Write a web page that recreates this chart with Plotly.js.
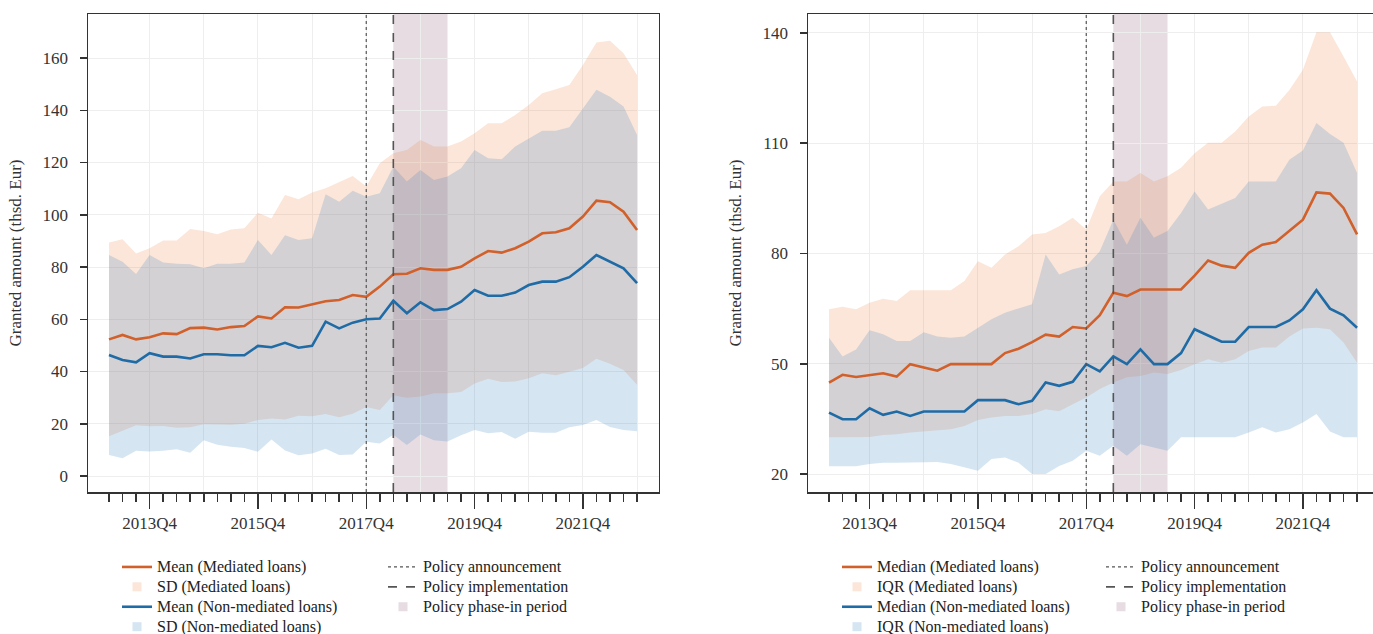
<!DOCTYPE html>
<html>
<head>
<meta charset="utf-8">
<script src="https://cdn.plot.ly/plotly-3.0.1.min.js"></script>
<style>
html,body{margin:0;padding:0;background:#fff;overflow:hidden;}
#wrap{width:1373px;height:634px;overflow:hidden;}
#chart{width:1385px;height:660px;}
</style>
</head>
<body>
<div id="wrap"><div id="chart"></div></div>
<script>
const quarters = ['2013Q1','2013Q2','2013Q3','2013Q4','2014Q1','2014Q2','2014Q3','2014Q4',
  '2015Q1','2015Q2','2015Q3','2015Q4','2016Q1','2016Q2','2016Q3','2016Q4',
  '2017Q1','2017Q2','2017Q3','2017Q4','2018Q1','2018Q2','2018Q3','2018Q4',
  '2019Q1','2019Q2','2019Q3','2019Q4','2020Q1','2020Q2','2020Q3','2020Q4',
  '2021Q1','2021Q2','2021Q3','2021Q4','2022Q1','2022Q2','2022Q3','2022Q4'];
const yearTicks = ['2013Q4','2014Q4','2015Q4','2016Q4','2017Q4','2018Q4','2019Q4','2020Q4','2021Q4','2022Q4'];
const tickLabels = ['2013Q4','2015Q4','2017Q4','2019Q4','2021Q4'];

// Left panel: mean and SD
const meanMediated = [52.3,54.0,52.3,53.1,54.6,54.3,56.6,56.8,56.1,57.0,57.4,61.1,60.3,64.6,64.5,65.7,66.9,67.4,69.3,68.6,72.5,77.2,77.4,79.5,78.9,78.9,80.1,83.3,86.1,85.5,87.2,89.7,92.9,93.3,94.8,99.3,105.4,104.8,101.2,94.2];
const sdMediated = [37.1,36.6,32.9,34.1,35.5,35.8,37.9,37.0,36.4,37.4,37.4,39.7,38.3,43.0,41.4,42.8,43.2,44.9,45.5,42.2,47.2,46.3,47.4,49.1,47.2,47.2,47.9,47.9,48.9,49.5,51.0,52.3,53.6,54.7,54.9,58.0,60.5,61.8,60.6,59.3];
const meanNonMediated = [46.3,44.4,43.5,47.0,45.7,45.7,45.0,46.6,46.6,46.2,46.2,49.8,49.3,51.0,49.1,49.8,59.1,56.5,58.7,60.0,60.3,67.1,62.3,66.5,63.5,63.9,66.7,71.2,69.0,69.0,70.2,73.1,74.4,74.4,76.1,80.1,84.6,82.0,79.5,73.8];
const sdNonMediated = [38.3,37.6,33.8,37.6,36.0,35.5,36.1,32.9,34.6,35.0,35.5,40.5,35.3,41.2,41.2,41.2,48.7,48.5,50.5,46.9,47.9,51.3,50.4,50.6,49.8,50.7,51.1,53.6,52.6,52.2,55.9,56.2,57.8,57.8,57.4,60.6,63.2,63.2,61.9,56.7];

// Right panel: median and IQR
const medianMediated = [44.9,47.0,46.4,47.0,47.4,46.5,49.9,49.0,48.1,49.9,49.9,49.9,49.9,52.9,54.1,55.9,57.9,57.4,60.0,59.6,63.2,69.3,68.4,70.2,70.2,70.2,70.2,74.0,78.1,76.7,76.1,80.2,82.4,83.1,86.1,89.2,96.6,96.3,92.4,85.2];
const q1Mediated = [30.0,30.0,30.0,30.1,30.6,30.8,31.3,31.6,32.0,32.2,33.1,34.7,35.4,35.8,35.8,36.3,37.6,37.1,39.0,40.8,43.1,44.9,46.3,46.7,47.6,47.2,48.3,49.9,51.2,50.3,51.2,53.5,54.4,54.4,57.4,59.6,59.8,59.4,55.8,50.3];
const q3Mediated = [64.8,65.5,64.8,66.6,67.7,67.1,70.0,70.0,70.0,70.0,72.5,77.9,76.1,79.7,82.0,85.2,85.6,87.4,89.7,86.5,95.6,99.6,99.6,101.9,99.6,101.0,103.3,107.3,110.1,110.1,113.2,117.3,120.0,120.2,124.5,130.0,140.2,140.2,133.6,126.8];
const medianNonMediated = [36.7,34.9,34.9,37.9,36.1,37.0,35.8,37.0,37.0,37.0,37.0,40.1,40.1,40.1,39.0,39.9,44.9,44.0,45.1,49.9,47.9,52.0,49.9,53.9,49.9,49.9,52.9,59.4,57.7,56.0,56.0,60.0,60.0,60.0,61.8,64.8,70.0,65.0,63.2,59.8];
const q1NonMediated = [22.1,22.2,22.1,22.7,23.1,23.1,23.1,23.1,23.3,22.7,21.8,20.9,24.1,24.5,23.1,20.0,20.0,22.2,23.6,26.3,25.0,27.7,25.0,28.1,27.2,26.3,30.0,30.0,30.0,30.0,30.0,31.3,32.7,31.3,32.2,34.0,36.3,31.6,30.0,30.0];
const q3NonMediated = [57.1,52.0,53.9,59.1,58.0,56.2,56.2,58.6,57.4,57.1,57.4,59.8,62.1,63.9,65.0,66.2,79.7,74.3,75.7,76.6,80.6,89.2,82.4,89.7,84.3,86.1,91.0,96.9,92.0,93.6,95.1,99.6,99.6,99.6,105.5,108.0,115.5,112.5,110.1,101.9];

const policyAnnouncement = '2017Q4';
const policyImplementation = '2018Q2';
const phaseInEnd = '2019Q2';

// ---------- styling ----------
const FONT = 'Liberation Serif';
const orange = '#D1602A';
const blue = '#1F6BA6';
const orangeBand = 'rgba(237,128,64,0.2)';
const blueBand = 'rgba(60,130,195,0.21)';
const phaseFill = 'rgba(120,70,100,0.19)';
const vlineColor = '#555555';

const xi = quarters.map((q, i) => i);
const qi = q => quarters.indexOf(q);
const lbl = s => '<span style="font-size:16px">' + s + '</span>';

function bandTraces(lower, upper, color, xa, ya) {
  return [
    {x: xi, y: lower, xaxis: xa, yaxis: ya, mode: 'lines', line: {width: 0, color: color},
     showlegend: false, hoverinfo: 'skip'},
    {x: xi, y: upper, xaxis: xa, yaxis: ya, mode: 'lines', line: {width: 0, color: color},
     fill: 'tonexty', fillcolor: color, showlegend: false, hoverinfo: 'skip'}
  ];
}
function lineTrace(y, color, name, xa, ya, leg, rank) {
  return {x: xi, y: y, xaxis: xa, yaxis: ya, mode: 'lines', name: lbl(name),
    line: {color: color, width: 2.6}, legend: leg, legendrank: rank};
}
function squareKey(color, name, xa, ya, leg, rank) {
  return {x: [null], y: [null], xaxis: xa, yaxis: ya, mode: 'markers', name: lbl(name),
    marker: {symbol: 'square', size: 9, color: color}, legend: leg, legendrank: rank, hoverinfo: 'skip'};
}
function dashKey(dash, name, xa, ya, leg, rank, w) {
  return {x: [null], y: [null], xaxis: xa, yaxis: ya, mode: 'lines', name: lbl(name),
    line: {color: vlineColor, width: w, dash: dash}, legend: leg, legendrank: rank, hoverinfo: 'skip'};
}

const lowerMed = meanMediated.map((m, i) => m - sdMediated[i]);
const upperMed = meanMediated.map((m, i) => m + sdMediated[i]);
const lowerNon = meanNonMediated.map((m, i) => m - sdNonMediated[i]);
const upperNon = meanNonMediated.map((m, i) => m + sdNonMediated[i]);

const traces = [].concat(
  bandTraces(lowerMed, upperMed, orangeBand, 'x', 'y'),
  bandTraces(lowerNon, upperNon, blueBand, 'x', 'y'),
  bandTraces(q1Mediated, q3Mediated, orangeBand, 'x2', 'y2'),
  bandTraces(q1NonMediated, q3NonMediated, blueBand, 'x2', 'y2'),
  [
    lineTrace(meanMediated, orange, 'Mean (Mediated loans)', 'x', 'y', 'legend', 1),
    squareKey(orangeBand, 'SD (Mediated loans)', 'x', 'y', 'legend', 2),
    lineTrace(meanNonMediated, blue, 'Mean (Non-mediated loans)', 'x', 'y', 'legend', 3),
    squareKey(blueBand, 'SD (Non-mediated loans)', 'x', 'y', 'legend', 4),
    dashKey('dot', 'Policy announcement', 'x', 'y', 'legend2', 1, 1.2),
    dashKey('dash', 'Policy implementation', 'x', 'y', 'legend2', 2, 1.6),
    squareKey(phaseFill, 'Policy phase-in period', 'x', 'y', 'legend2', 3),

    lineTrace(medianMediated, orange, 'Median (Mediated loans)', 'x2', 'y2', 'legend3', 1),
    squareKey(orangeBand, 'IQR (Mediated loans)', 'x2', 'y2', 'legend3', 2),
    lineTrace(medianNonMediated, blue, 'Median (Non-mediated loans)', 'x2', 'y2', 'legend3', 3),
    squareKey(blueBand, 'IQR (Non-mediated loans)', 'x2', 'y2', 'legend3', 4),
    dashKey('dot', 'Policy announcement', 'x2', 'y2', 'legend4', 1, 1.2),
    dashKey('dash', 'Policy implementation', 'x2', 'y2', 'legend4', 2, 1.6),
    squareKey(phaseFill, 'Policy phase-in period', 'x2', 'y2', 'legend4', 3)
  ]
);

function xAxis(domain, anchor) {
  return {
    domain: domain, anchor: anchor, range: [-1.55, 40.62],
    tickmode: 'array',
    tickvals: yearTicks.map(qi),
    ticktext: yearTicks.map(t => tickLabels.includes(t) ? t : ''),
    ticks: 'outside', ticklen: 15, tickwidth: 1.5, tickcolor: '#333',
    ticklabelstandoff: 0,
    minor: {tickmode: 'array', tickvals: xi, ticks: 'outside', ticklen: 8, tickwidth: 1.5,
            tickcolor: '#333', showgrid: false},
    showgrid: true, gridcolor: '#EEEEEE', gridwidth: 1,
    showline: true, mirror: true, linecolor: '#333', linewidth: 1.5,
    zeroline: false, tickfont: {family: FONT, size: 17, color: '#333'}
  };
}
function yAxis(range, tickvals, anchor) {
  return {
    anchor: anchor, range: range, tickmode: 'array', tickvals: tickvals,
    ticks: 'outside', ticklen: 7, tickwidth: 1.5, tickcolor: '#333',
    ticklabelstandoff: 8,
    showgrid: true, gridcolor: '#EEEEEE', gridwidth: 1,
    showline: true, mirror: true, linecolor: '#333', linewidth: 1.5,
    zeroline: false, tickfont: {family: FONT, size: 17, color: '#333'},
    title: {text: 'Granted amount (thsd. Eur)', font: {family: FONT, size: 17, color: '#333'}, standoff: 16}
  };
}

function policyShapes(xref, yref) {
  return [
    {type: 'rect', xref: xref, yref: yref + ' domain', x0: qi(policyImplementation), x1: qi(phaseInEnd),
     y0: 0, y1: 1, fillcolor: phaseFill, line: {width: 0}, layer: 'below'},
    {type: 'line', xref: xref, yref: yref + ' domain', x0: qi(policyAnnouncement), x1: qi(policyAnnouncement),
     y0: 0, y1: 1, line: {color: vlineColor, width: 1.2, dash: 'dot'}},
    {type: 'line', xref: xref, yref: yref + ' domain', x0: qi(policyImplementation), x1: qi(policyImplementation),
     y0: 0, y1: 1, line: {color: vlineColor, width: 1.6, dash: 'dash'}}
  ];
}

const legendBase = {orientation: 'v', yanchor: 'top', xanchor: 'left', y: (492 - 552) / 478,
  traceorder: 'normal',
  bgcolor: 'rgba(0,0,0,0)', borderwidth: 0, itemclick: false,
  font: {family: FONT, size: 13, color: '#222'}, itemwidth: 30, tracegroupgap: 0};

const layout = {
  width: 1385, height: 660,
  margin: {l: 88, r: 6, t: 14, b: 168},
  paper_bgcolor: '#fff', plot_bgcolor: '#fff',
  font: {family: FONT, color: '#333'},
  xaxis: xAxis([0, 0.44229], 'y'),
  yaxis: yAxis([-6.12, 176.84], [0, 20, 40, 60, 80, 100, 120, 140, 160], 'x'),
  xaxis2: xAxis([0.55771, 1], 'y2'),
  yaxis2: yAxis([15.11, 145.16], [20, 50, 80, 110, 140], 'x2'),
  shapes: policyShapes('x', 'y').concat(policyShapes('x2', 'y2')),
  legend: Object.assign({}, legendBase, {x: (117 - 88) / 1291}),
  legend2: Object.assign({}, legendBase, {x: (383 - 88) / 1291}),
  legend3: Object.assign({}, legendBase, {x: (837 - 88) / 1291}),
  legend4: Object.assign({}, legendBase, {x: (1101 - 88) / 1291}),
  showlegend: true
};

Plotly.newPlot('chart', traces, layout, {displayModeBar: false, staticPlot: true});
</script>
</body>
</html>
